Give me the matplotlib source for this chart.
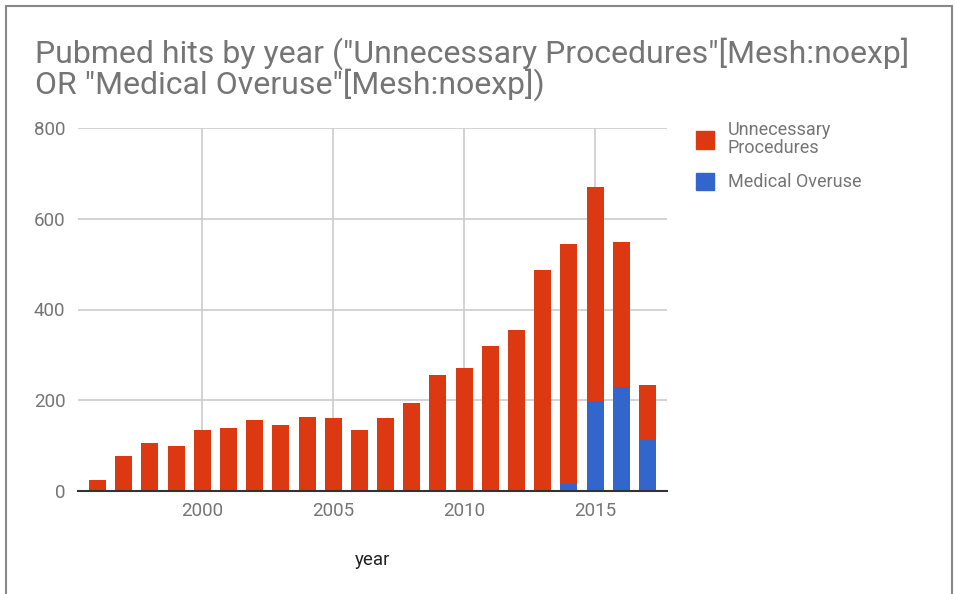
import matplotlib
matplotlib.use("Agg")
import matplotlib.pyplot as plt
from matplotlib.patches import Rectangle, Patch

plt.rcParams['font.family'] = ['Roboto', 'DejaVu Sans']

years = list(range(1996, 2018))
totals = [24, 77, 106, 99, 134, 139, 156, 145, 163, 161, 134, 161, 194, 256, 271, 320, 355, 487, 544, 670, 549, 234]
overuse = [0, 0, 0, 0, 0, 0, 0, 0, 0, 0, 0, 0, 0, 0, 0, 0, 0, 0, 15, 198, 229, 112]
unnecessary = [t - o for t, o in zip(totals, overuse)]
yticks = [0, 200, 400, 600, 800]
xticks = [2000, 2005, 2010, 2015]

RED = '#dc3912'
BLUE = '#3366cc'
GREY = '#757575'

W, H = 955, 594
fig = plt.figure(figsize=(W / 100, H / 100), dpi=100)
ax = fig.add_axes([78 / W, 1 - 491 / H, (667 - 78) / W, (491 - 128) / H])

ax.bar(years, overuse, width=0.65, color=BLUE, label='Medical Overuse', zorder=3)
ax.bar(years, unnecessary, bottom=overuse, width=0.65, color=RED,
       label='Unnecessary\nProcedures', zorder=3)

ax.set_xlim(1995.25, 2017.75)
ax.set_ylim(0, 800)
ax.set_yticks(yticks)
ax.set_xticks(xticks)
ax.grid(True, color='#cccccc', linewidth=1.2, zorder=0)
ax.tick_params(length=0, labelsize=13.5, labelcolor=GREY, pad=8)
ax.tick_params(axis='y', pad=9)
for s in ['top', 'right', 'left']:
    ax.spines[s].set_visible(False)
ax.spines['bottom'].set_color('#333333')
ax.spines['bottom'].set_linewidth(1.5)
ax.spines['bottom'].set_zorder(4)

ax.set_xlabel('year', fontsize=13.5, color='#222222', labelpad=22)

fig.text(35 / W, 1 - 69 / H,
         'Pubmed hits by year ("Unnecessary Procedures"[Mesh:noexp]\nOR "Medical Overuse"[Mesh:noexp])',
         fontsize=23, color=GREY, va='center', ha='left', linespacing=0.92)

handles = [Patch(color=RED), Patch(color=BLUE)]
labels = ['Unnecessary\nProcedures', 'Medical Overuse']
leg = fig.legend(handles, labels, loc='upper left', bbox_to_anchor=(680 / W, 1 - 105 / H),
                 frameon=False, fontsize=13, labelcolor=GREY, handlelength=1.0,
                 handleheight=1.1, handletextpad=0.75, labelspacing=0.85)
for t in leg.get_texts():
    t.set_linespacing(1.0)

fig.patches.append(Rectangle((6 / W, -0.05), (952 - 6) / W, 1.05 - 6 / H,
                             transform=fig.transFigure, fill=False,
                             edgecolor='#888888', linewidth=1.5))

fig.savefig('out.png', dpi=100)
